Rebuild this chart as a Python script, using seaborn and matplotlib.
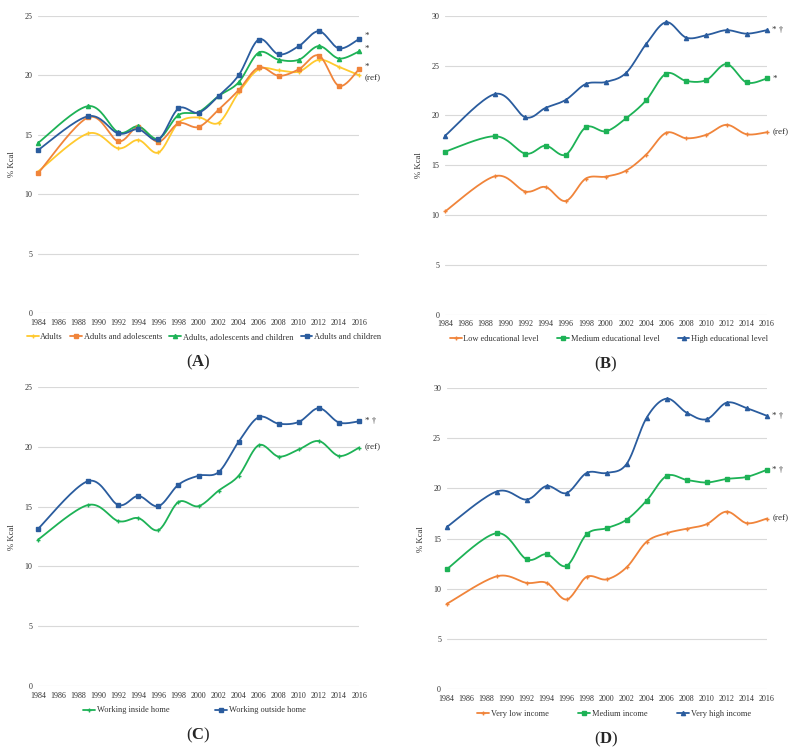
import numpy as np
import pandas as pd
import matplotlib
matplotlib.use("Agg")
import matplotlib.pyplot as plt
from matplotlib.lines import Line2D
import seaborn as sns

years = [1984, 1989, 1992, 1994, 1996, 1998, 2000, 2002, 2004, 2006, 2008, 2010, 2012, 2014, 2016]

# Panel A - household type
adults = [11.9, 15.1, 13.85, 14.55, 13.5, 16.0, 16.45, 16.0, 18.55, 20.5, 20.4, 20.3, 21.3, 20.7, 20.0]
adults_adol = [11.75, 16.45, 14.45, 15.65, 14.4, 15.95, 15.65, 17.1, 18.75, 20.65, 19.95, 20.5, 21.65, 19.1, 20.5]
adults_adol_child = [14.3, 17.4, 15.2, 15.7, 14.65, 16.65, 16.9, 18.25, 19.4, 21.9, 21.3, 21.3, 22.45, 21.4, 22.0]
adults_child = [13.7, 16.55, 15.1, 15.45, 14.6, 17.2, 16.85, 18.25, 20.0, 23.0, 21.75, 22.45, 23.7, 22.25, 23.05]

# Panel B - educational level
edu_low = [10.35, 13.9, 12.35, 12.8, 11.4, 13.65, 13.85, 14.45, 16.05, 18.25, 17.7, 18.05, 19.05, 18.1, 18.3]
edu_med = [16.35, 17.9, 16.15, 16.95, 16.05, 18.8, 18.4, 19.7, 21.5, 24.2, 23.45, 23.55, 25.15, 23.3, 23.7]
edu_high = [17.95, 22.15, 19.8, 20.75, 21.55, 23.15, 23.35, 24.25, 27.15, 29.35, 27.8, 28.05, 28.55, 28.2, 28.55]

# Panel C - working status
work_in = [12.25, 15.15, 13.8, 14.05, 13.05, 15.4, 15.05, 16.35, 17.6, 20.15, 19.2, 19.8, 20.5, 19.25, 19.95]
work_out = [13.15, 17.15, 15.15, 15.9, 15.05, 16.85, 17.6, 17.9, 20.45, 22.5, 21.95, 22.1, 23.25, 22.05, 22.15]

# Panel D - income
inc_low = [8.5, 11.25, 10.6, 10.6, 8.95, 11.2, 10.95, 12.15, 14.7, 15.55, 16.0, 16.45, 17.7, 16.55, 17.0]
inc_med = [11.95, 15.55, 12.95, 13.45, 12.3, 15.45, 16.05, 16.9, 18.8, 21.25, 20.85, 20.6, 20.95, 21.15, 21.85]
inc_high = [16.15, 19.7, 18.9, 20.25, 19.55, 21.55, 21.55, 22.45, 27.05, 28.95, 27.55, 26.9, 28.55, 28.0, 27.25]

YELLOW = "#FFC92E"
ORANGE = "#F0843A"
GREEN = "#1DB256"
BLUE = "#2A5C9E"
GRID = "#D9D9D9"

sns.set_theme(style="white")
plt.rcParams["font.family"] = ["Liberation Serif", "DejaVu Serif"]
plt.rcParams["mathtext.fontset"] = "custom"
plt.rcParams["mathtext.bf"] = "Liberation Serif:bold"
plt.rcParams["mathtext.rm"] = "Liberation Serif"


def smooth(x, y, n=20):
    # Catmull-Rom curve through the points (Excel-like smoothed line)
    p = np.column_stack([x, y]).astype(float)
    p = np.vstack([p[0], p, p[-1]])
    out = []
    t = np.linspace(0, 1, n, endpoint=False)[:, None]
    for i in range(1, len(p) - 2):
        p0, p1, p2, p3 = p[i - 1], p[i], p[i + 1], p[i + 2]
        seg = 0.5 * ((2 * p1) + (-p0 + p2) * t + (2 * p0 - 5 * p1 + 4 * p2 - p3) * t ** 2
                     + (-p0 + 3 * p1 - 3 * p2 + p3) * t ** 3)
        out.append(seg)
    out.append(p[-2][None, :])
    out = np.vstack(out)
    return out[:, 0], out[:, 1]


def panel(rect, series, ymax, notes, letter, leg_x, colspace):
    ax = fig.add_axes(rect)
    handles = []
    for name, vals, color, marker, ms in series:
        sx, sy = smooth(years, vals)
        d = pd.DataFrame({"x": sx, "y": sy})
        sns.lineplot(data=d, x="x", y="y", ax=ax, color=color, lw=1.3,
                     sort=False, estimator=None, clip_on=False)
        ax.plot(years, vals, ls="none", marker=marker, ms=ms, color=color,
                mec=color, clip_on=False, zorder=3)
        handles.append(Line2D([0], [0], color=color, lw=1.3, marker=marker,
                              ms=ms, label=name))
    ax.set_xlim(1984, 2016)
    ax.set_ylim(0, ymax)
    ax.set_xticks(range(1984, 2017, 2))
    ax.set_yticks(range(0, ymax + 1, 5))
    ax.tick_params(axis="both", labelsize=5.8, length=0, pad=4, colors="#333333")
    ax.grid(axis="y", color=GRID, lw=0.8)
    ax.set_axisbelow(True)
    for s in ax.spines.values():
        s.set_visible(False)
    ax.set_xlabel("")
    ax.set_ylabel("% Kcal", fontsize=6.3, color="#333333", labelpad=6)
    for val, txt, dy in notes:
        ax.annotate(txt, xy=(2016, val), xytext=(4, dy), textcoords="offset points",
                    fontsize=6.5, va="center", ha="left", annotation_clip=False,
                    color="#303030")
    ax.legend(handles=handles, loc="center", bbox_to_anchor=(leg_x, -0.082),
              ncol=len(handles), frameon=False, fontsize=6.0, handlelength=1.4,
              handletextpad=0.2, columnspacing=colspace, borderaxespad=0,
              labelcolor="#333333")
    x0 = rect[0] + rect[2] / 2
    fig.text(x0, rect[1] - 0.066, r"($\mathbf{" + letter + r"}$)", ha="center",
             va="center", fontsize=12)
    return ax


fig = plt.figure(figsize=(7.99, 7.53), dpi=100)

panel([0.0476, 0.5843, 0.4018, 0.3948],
      [("Adults", adults, YELLOW, "+", 3),
       ("Adults and adolescents", adults_adol, ORANGE, "s", 3.5),
       ("Adults, adolescents and children", adults_adol_child, GREEN, "^", 3),
       ("Adults and children", adults_child, BLUE, "s", 3)],
      25,
      [(adults_child[-1], "*", 2), (adults_adol_child[-1], "*", 2),
       (adults_adol[-1], "*", 2), (adults[-1], "(ref)", -2)],
      "A", 0.517, 0.9)

panel([0.5570, 0.5823, 0.4026, 0.3968],
      [("Low educational level", edu_low, ORANGE, "+", 3),
       ("Medium educational level", edu_med, GREEN, "s", 3.5),
       ("High educational level", edu_high, BLUE, "^", 3)],
      30,
      [(edu_high[-1], "* \u2020", 0), (edu_med[-1], "*", 0), (edu_low[-1], "(ref)", 0)],
      "B", 0.51, 2.2)

panel([0.0476, 0.0890, 0.4018, 0.3967],
      [("Working inside home", work_in, GREEN, "+", 3),
       ("Working outside home", work_out, BLUE, "s", 3.5)],
      25,
      [(work_out[-1], "* \u2020", 0), (work_in[-1], "(ref)", 0)],
      "C", 0.487, 5.5)

panel([0.5590, 0.0846, 0.4005, 0.4000],
      [("Very low income", inc_low, ORANGE, "+", 3),
       ("Medium income", inc_med, GREEN, "s", 3.5),
       ("Very high income", inc_high, BLUE, "^", 3)],
      30,
      [(inc_high[-1], "* \u2020", 0), (inc_med[-1], "* \u2020", 0), (inc_low[-1], "(ref)", 0)],
      "D", 0.523, 3.6)

fig.savefig("out.png", dpi=100)
